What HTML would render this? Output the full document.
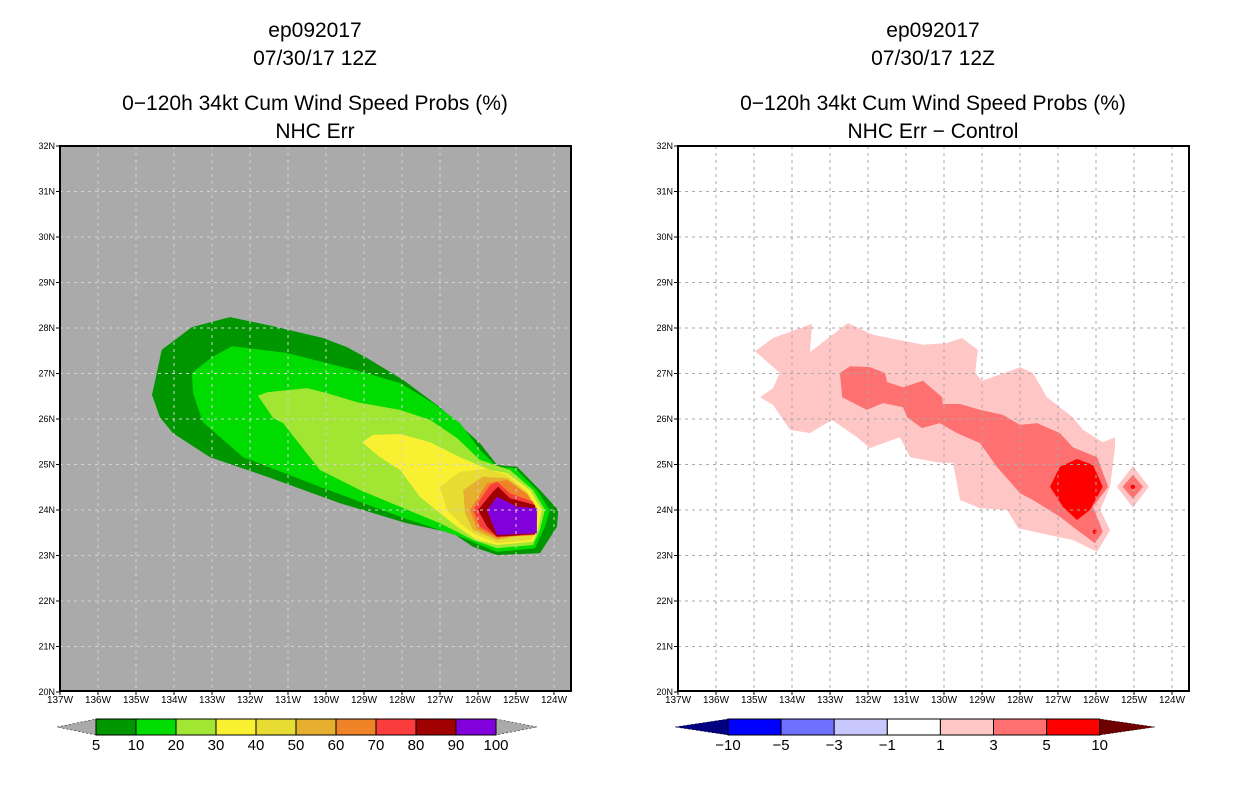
<!DOCTYPE html>
<html><head><meta charset="utf-8">
<style>
body{margin:0;background:#fff;width:1236px;height:800px;overflow:hidden;font-family:"Liberation Sans",sans-serif}
svg text{font-family:"Liberation Sans",sans-serif}
</style></head>
<body>
<svg id="c" width="1236" height="800" viewBox="0 0 1236 800" xmlns="http://www.w3.org/2000/svg"></svg>
<script>
// ---- data ----
const lonTicks=[137,136,135,134,133,132,131,130,129,128,127,126,125,124];
const latTicks=[32,31,30,29,28,27,26,25,24,23,22,21,20];
const leftLevels=[5,10,20,30,40,50,60,70,80,90,100];
const leftColors=["#009600","#00dc00","#a0e632","#faf032","#e6dc32","#e6af2d","#f08228","#fa3c3c","#a00000","#8200dc"];
const rightLevels=[-10,-5,-3,-1,1,3,5,10];
const rightColors=["#0000ff","#7070ff","#c8c8ff","#ffffff","#ffc6c6","#ff7070","#ff0000"];
// contour polygons [degW, degN]
const p5=[[134.58,26.53],[134.32,27.52],[133.53,28.02],[132.53,28.24],[131.39,28.04],[130.08,27.78],[129.45,27.58],[128.92,27.34],[127.97,26.86],[127.0,26.26],[125.95,25.47],[125.5,24.99],[124.97,24.95],[124.37,24.44],[123.89,24.0],[123.92,23.63],[124.37,23.05],[125.5,23.01],[126.13,23.19],[126.66,23.49],[127.87,23.71],[129.63,24.15],[131.55,24.73],[133.05,25.16],[134.03,25.69],[134.37,26.04]];
const p10=[[133.53,27.01],[133.0,27.36],[132.47,27.6],[131.03,27.45],[130.08,27.25],[129.03,27.03],[128.05,26.79],[127.18,26.35],[126.47,25.91],[125.95,25.32],[125.5,24.95],[125.03,24.92],[124.45,24.44],[124.11,24.0],[124.24,23.63],[124.5,23.16],[125.5,23.08],[126.47,23.41],[128.05,23.85],[130.16,24.51],[132.18,25.16],[133.24,25.93],[133.5,26.57]];
const p20=[[131.79,26.51],[131.55,26.59],[130.5,26.68],[129.97,26.57],[129.18,26.37],[128.05,26.2],[127.26,25.98],[126.55,25.58],[125.95,25.1],[125.16,24.88],[124.55,24.44],[124.24,24.0],[124.37,23.56],[124.55,23.23],[125.5,23.16],[126.13,23.34],[127.0,23.71],[128.05,24.07],[129.11,24.44],[130.16,24.88],[131.13,25.91],[131.39,26.02]];
const p30=[[129.05,25.49],[128.76,25.65],[128.05,25.67],[127.26,25.49],[126.47,25.16],[125.68,24.88],[125.24,24.81],[124.63,24.44],[124.32,24.0],[124.42,23.56],[124.55,23.3],[125.5,23.23],[126.03,23.34],[126.55,23.63],[127.0,23.93],[127.53,24.29],[128.05,24.88],[128.58,25.16]];
const p40=[[127.0,24.51],[126.47,24.84],[125.76,24.9],[125.24,24.77],[124.71,24.4],[124.42,24.0],[124.5,23.56],[124.58,23.34],[125.5,23.27],[126.13,23.49],[126.47,23.71],[126.82,24.0]];
const p50=[[126.39,24.44],[125.87,24.73],[125.24,24.7],[124.71,24.37],[124.45,24.0],[124.55,23.49],[125.5,23.34],[126.13,23.56],[126.34,23.93]];
const p60=[[126.21,24.0],[125.76,24.59],[125.24,24.66],[124.68,24.33],[124.45,24.0],[124.5,23.49],[125.5,23.38],[126.03,23.6]];
const p70=[[126.13,24.0],[125.68,24.55],[125.5,24.62],[125.16,24.37],[124.55,24.18],[124.45,23.85],[124.5,23.45],[125.5,23.41],[125.95,23.63]];
const p80=[[126.0,24.0],[125.61,24.4],[125.47,24.51],[125.16,24.26],[124.5,24.11],[124.45,23.85],[124.5,23.47],[125.5,23.41],[125.76,23.63]];
const p90=[[125.76,24.0],[125.5,24.29],[124.97,24.07],[124.45,24.04],[124.45,23.49],[125.5,23.45],[125.63,23.71]];
const d1=[[134.97,27.49],[134.5,27.78],[133.47,28.09],[133.53,27.47],[132.53,28.11],[131.87,27.85],[130.55,27.63],[129.92,27.67],[129.53,27.78],[129.11,27.52],[129.18,27.01],[129.0,26.84],[128.34,27.03],[128.0,27.14],[127.66,27.01],[127.29,26.48],[126.61,26.04],[126.34,25.76],[125.82,25.49],[125.5,25.6],[125.5,25.38],[125.63,24.51],[125.89,24.0],[125.63,23.56],[125.97,23.08],[126.61,23.34],[127.03,23.41],[128.05,23.6],[128.34,24.0],[129.05,24.04],[129.58,24.22],[129.76,25.03],[130.18,25.05],[130.89,25.16],[131.16,25.6],[131.95,25.36],[132.29,25.6],[132.95,25.98],[133.53,25.69],[134.05,25.76],[134.5,26.31],[134.84,26.48],[134.5,26.68],[134.32,27.01]];
const d3=[[132.74,27.01],[132.47,27.16],[131.95,27.14],[131.55,27.01],[131.5,26.81],[131.08,26.7],[130.55,26.84],[130.05,26.48],[130.03,26.33],[129.58,26.33],[129.05,26.2],[128.45,26.09],[128.0,25.87],[127.55,25.91],[126.95,25.69],[126.61,25.38],[125.97,25.16],[125.68,24.51],[126.08,24.07],[125.82,23.52],[126.03,23.27],[126.61,23.63],[126.95,23.85],[127.66,24.22],[128.0,24.37],[128.61,24.95],[129.05,25.47],[129.66,25.69],[130.11,25.91],[130.58,25.8],[130.97,26.04],[131.08,26.26],[131.61,26.35],[132.03,26.2],[132.68,26.48]];
const d5=[[127.21,24.51],[126.95,24.95],[126.5,25.12],[126.08,24.99],[125.82,24.51],[126.16,24.0],[126.5,23.78],[126.87,24.07]];
const diamond1=[[125.45,24.51],[125.03,24.97],[124.61,24.51],[125.03,24.05]];
const diamond3=[[125.3,24.51],[125.03,24.77],[124.76,24.51],[125.03,24.25]];
const dots=[[126.03,23.52],[125.03,24.51]];

const NS="http://www.w3.org/2000/svg";
const svg=document.getElementById('c');
function el(tag,attrs,parent){const e=document.createElementNS(NS,tag);for(const k in attrs)e.setAttribute(k,attrs[k]);(parent||svg).appendChild(e);return e;}
function mkX(x0){return w=>x0+(137-w)*38;}
function yS(n){return 146+(32-n)*45.5;}

function panel(x0,bg,gridCol,titleLines,name,polys,cols,extra){
  const X=mkX(x0), W=511, top=146, bot=691;
  const g=el('g',{});
  
  
  const cx=x0+255;
  const tys=[30,58,103,131];
  titleLines.forEach((t,i)=>{
    const tx=el('text',{x:cx,y:tys[i]+7,'text-anchor':'middle','font-size':'21','fill':'#000'},g);
    tx.textContent=t;
    
    
  });
  const clipId='clip'+x0;
  const cp=el('clipPath',{id:clipId},g);el('rect',{x:x0,y:top,width:W,height:bot-top},cp);
  const bgR=el('rect',{x:x0,y:top,width:W,height:bot-top,fill:bg},g);
  
  
  const pg=el('g',{'clip-path':'url(#'+clipId+')'},g);
  polys.forEach((p,i)=>{
    const poly=el('polygon',{points:p.map(q=>X(q[0]).toFixed(1)+','+yS(q[1]).toFixed(1)).join(' '),fill:cols[i]},pg);
    
    
  });
  if(extra)extra(pg,X);
  // grid
  lonTicks.forEach(w=>{const x=X(w);if(x>x0+1&&x<x0+W-1){const l=el('line',{x1:x,y1:top,x2:x,y2:bot,stroke:gridCol,'stroke-width':1,'stroke-dasharray':'3,4'},pg);}});
  latTicks.forEach(n=>{const y=yS(n);if(y>top+1&&y<bot-1){const l=el('line',{x1:x0,y1:y,x2:x0+W,y2:y,stroke:gridCol,'stroke-width':1,'stroke-dasharray':'3,4'},pg);}});
  const fr=el('rect',{x:x0,y:top,width:W,height:bot-top,fill:'none',stroke:'#000','stroke-width':2},g);
  
  
  latTicks.forEach(n=>{const y=yS(n);el('line',{x1:x0-4,y1:y,x2:x0,y2:y,stroke:'#000'},g);
    const t=el('text',{x:x0-5,y:y+3,'text-anchor':'end','font-size':'9'},g);t.textContent=n+'N';
    });
  lonTicks.forEach(w=>{const x=X(w);el('line',{x1:x,y1:bot,x2:x,y2:bot+4,stroke:'#000'},g);
    const t=el('text',{x:x,y:bot+12,'text-anchor':'middle','font-size':'10'},g);t.textContent=w+'W';
    });
}

function colorbar(x1,bw,tipL,tipR,levels,colors,lc,rc,name){
  const g=el('g',{});
  
  
  const y0=719,y1=735,ym=727,x2=x1+bw*colors.length;
  el('polygon',{points:`${tipL},${ym} ${x1},${y0} ${x1},${y1}`,fill:lc,stroke:'#000','stroke-width':0.5,'stroke-dasharray':'2,2'},g);
  el('polygon',{points:`${tipR},${ym} ${x2},${y0} ${x2},${y1}`,fill:rc,stroke:'#000','stroke-width':0.5,'stroke-dasharray':'2,2'},g);
  colors.forEach((c,i)=>{const r=el('rect',{x:x1+i*bw,y:y0,width:bw,height:y1-y0,fill:c,stroke:'#000','stroke-width':1},g);
    });
  levels.forEach((v,i)=>{const t=el('text',{x:x1+i*bw,y:750,'text-anchor':'middle','font-size':'15'},g);
    t.textContent=String(v).replace('-','\u2212');
    });
}

panel(60,'#aaaaaa','#d2d2d2',['ep092017','07/30/17 12Z','0\u2212120h 34kt Cum Wind Speed Probs (%)','NHC Err'],'left-panel',
  [p5,p10,p20,p30,p40,p50,p60,p70,p80,p90],leftColors);
panel(678,'#ffffff','#a8a8a8',['ep092017','07/30/17 12Z','0\u2212120h 34kt Cum Wind Speed Probs (%)','NHC Err \u2212 Control'],'right-panel',
  [d1,d3,d5,diamond1,diamond3],[rightColors[4],rightColors[5],rightColors[6],rightColors[4],rightColors[5]],
  (pg,X)=>{dots.forEach(d=>{const c=el('circle',{cx:X(d[0]),cy:yS(d[1]),r:2.2,fill:'#ff0000'},pg);});});
colorbar(96,40,57,537,leftLevels.slice(0,11).filter((v,i)=>true).slice(0,11),leftColors,'#aaaaaa','#aaaaaa','left-colorbar');
colorbar(728,53.1,675,1155,rightLevels,rightColors,'#000080','#6e0000','right-colorbar');
</script>
</body></html>
